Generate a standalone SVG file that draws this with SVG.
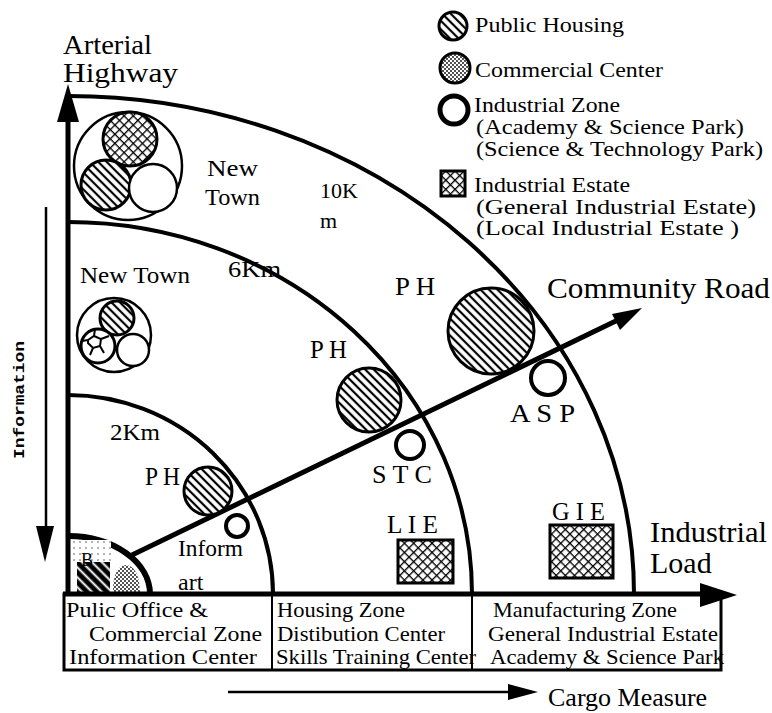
<svg xmlns="http://www.w3.org/2000/svg" width="772" height="713" viewBox="0 0 772 713">
  <style>
    text { font-family: "Liberation Serif", "Times New Roman", serif; fill: #000; }
    .lg { font-size: 22px; }
    .nt { font-size: 24px; }
    .bx { font-size: 22px; }
    .lbl { font-size: 24px; }
    .sp { font-size: 25px; }
    .big { font-size: 30px; }
    .arc { fill: none; stroke: #000; stroke-width: 4; }
    .ax { fill: none; stroke: #000; stroke-width: 5; }
    .ph { fill: url(#hatch); stroke: #000; stroke-width: 3; }
    .iz { fill: #fff; stroke: #000; stroke-width: 4; }
    .ie { fill: url(#cross); stroke: #000; stroke-width: 3; }
    .cc { fill: url(#dots); stroke: #000; stroke-width: 3; }
    .thin { fill: #fff; stroke: #000; stroke-width: 2.5; }
  </style>
  <defs>
    <!-- diagonal hatch for public housing -->
    <pattern id="hatch" patternUnits="userSpaceOnUse" width="6" height="6" patternTransform="rotate(-45)">
      <rect width="6" height="6" fill="#fff"/>
      <line x1="3" y1="0" x2="3" y2="6" stroke="#000" stroke-width="2.2"/>
    </pattern>
    <!-- dense cross hatch for industrial estates -->
    <pattern id="cross" patternUnits="userSpaceOnUse" width="6.5" height="6.5" patternTransform="rotate(45)">
      <rect width="6.5" height="6.5" fill="#fff"/>
      <line x1="0" y1="0" x2="0" y2="6.5" stroke="#000" stroke-width="2.6"/>
      <line x1="0" y1="0" x2="6.5" y2="0" stroke="#000" stroke-width="2.6"/>
    </pattern>
    <!-- stipple for commercial centers -->
    <pattern id="dots" patternUnits="userSpaceOnUse" width="4" height="4">
      <rect width="4" height="4" fill="#fff"/>
      <circle cx="1" cy="1" r="0.9" fill="#000"/>
      <circle cx="3" cy="3" r="0.9" fill="#000"/>
    </pattern>
    <pattern id="lightdots" patternUnits="userSpaceOnUse" width="6" height="6">
      <rect width="6" height="6" fill="#fff"/>
      <circle cx="2" cy="2" r="0.8" fill="#555"/>
    </pattern>
    <!-- inverted hatch: black with white stripes -->
    <pattern id="darkhatch" patternUnits="userSpaceOnUse" width="7" height="7" patternTransform="rotate(-45)">
      <rect width="7" height="7" fill="#000"/>
      <line x1="3.5" y1="0" x2="3.5" y2="7" stroke="#fff" stroke-width="2"/>
    </pattern>
  </defs>

  <!-- legend -->
  <g id="legend">
    <circle class="ph" cx="453" cy="26" r="14"/>
    <text class="lg" x="475" y="32" textLength="149" lengthAdjust="spacingAndGlyphs">Public Housing</text>
    <circle class="cc" cx="455" cy="68" r="15"/>
    <text class="lg" x="475" y="77" textLength="188" lengthAdjust="spacingAndGlyphs">Commercial Center</text>
    <circle cx="454" cy="110" r="14" fill="#fff" stroke="#000" stroke-width="5"/>
    <text class="lg" x="474" y="112" textLength="146" lengthAdjust="spacingAndGlyphs">Industrial  Zone</text>
    <text class="lg" x="476" y="134" textLength="268" lengthAdjust="spacingAndGlyphs">(Academy &amp; Science Park)</text>
    <text class="lg" x="476" y="156" textLength="287" lengthAdjust="spacingAndGlyphs">(Science &amp; Technology Park)</text>
    <rect class="ie" x="441" y="171" width="24" height="25"/>
    <text class="lg" x="474" y="192" textLength="156" lengthAdjust="spacingAndGlyphs">Industrial Estate</text>
    <text class="lg" x="476" y="214" textLength="280" lengthAdjust="spacingAndGlyphs">(General Industrial Estate)</text>
    <text class="lg" x="476" y="235" textLength="263" lengthAdjust="spacingAndGlyphs">(Local Industrial Estate )</text>
  </g>

  <!-- distance rings around the origin -->
  <g id="rings">
    <path class="arc" d="M68,96 A566,498 0 0 1 634,594"/>
    <path class="arc" d="M68,222 A404,372 0 0 1 472,594"/>
    <path class="arc" d="M68,395 A205,199 0 0 1 273,594"/>
    <path d="M68,536 A82,58 0 0 1 150,594" fill="none" stroke="#000" stroke-width="6"/>
  </g>

  <!-- origin: public office and commercial core -->
  <g id="core">
    <rect x="71" y="540" width="40" height="21" fill="url(#lightdots)"/>
    <rect x="77" y="562" width="33" height="30" fill="url(#darkhatch)"/>
    <path d="M113,592 Q113,566 126,565 Q139,566 140,592 Z" fill="url(#dots)"/>
    <text x="81" y="566" style="font-size:18px">B</text>
  </g>

  <!-- connectors: axes and roads -->
  <g id="connectors">
    <line class="ax" x1="68" y1="596" x2="68" y2="118"/>
    <polygon points="68,84 57,122 79,122" fill="#000"/>
    <line class="ax" x1="63" y1="594" x2="704" y2="594"/>
    <polygon points="737,595 700,583 700,607" fill="#000"/>
    <line x1="132" y1="555" x2="622" y2="318" stroke="#000" stroke-width="5"/>
    <polygon points="642,308 612,314 620,330" fill="#000"/>
    <line x1="46" y1="207" x2="46" y2="530" stroke="#000" stroke-width="2.5"/>
    <polygon points="45,562 36,526 54,526" fill="#000"/>
    <line x1="228" y1="692" x2="512" y2="692" stroke="#000" stroke-width="2.5"/>
    <polygon points="538,692 508,684 508,700" fill="#000"/>
  </g>

  <!-- axis titles -->
  <g id="axis-labels">
    <text x="63" y="54" textLength="89" lengthAdjust="spacingAndGlyphs" style="font-size:28px">Arterial</text>
    <text x="63" y="82" textLength="115" lengthAdjust="spacingAndGlyphs" style="font-size:28px">Highway</text>
    <text class="big" x="547" y="298" textLength="223" lengthAdjust="spacingAndGlyphs">Community  Road</text>
    <text class="big" x="650" y="542" textLength="117" lengthAdjust="spacingAndGlyphs">Industrial</text>
    <text class="big" x="650" y="573">Load</text>
    <text transform="translate(24,400) rotate(-90)" text-anchor="middle" textLength="118" lengthAdjust="spacingAndGlyphs" style="font-family:'Liberation Mono',monospace;font-weight:bold;font-size:14px">Information</text>
    <text x="548" y="706" style="font-size:26px">Cargo Measure</text>
  </g>

  <!-- ring distances -->
  <g id="ring-labels">
    <text x="320" y="198" style="font-size:22px">10K</text>
    <text x="320" y="228" style="font-size:22px">m</text>
    <text class="lbl" x="228" y="277" textLength="53" lengthAdjust="spacingAndGlyphs">6Km</text>
    <text class="lbl" x="110" y="440" textLength="50" lengthAdjust="spacingAndGlyphs">2Km</text>
  </g>

  <!-- new town at 10 km -->
  <g id="newtown-outer">
    <circle cx="128" cy="166" r="54" fill="#fff" stroke="#000" stroke-width="2.5"/>
    <circle cx="130" cy="139" r="27" fill="url(#cross)" stroke="#000" stroke-width="3"/>
    <circle cx="106" cy="185" r="25" class="ph"/>
    <circle cx="153" cy="188" r="24" class="thin"/>
    <text class="nt" x="207" y="176" textLength="51" lengthAdjust="spacingAndGlyphs">New</text>
    <text class="nt" x="205" y="205" textLength="55" lengthAdjust="spacingAndGlyphs">Town</text>
  </g>

  <!-- new town at 6 km -->
  <g id="newtown-inner">
    <circle cx="114" cy="335" r="37" fill="#fff" stroke="#000" stroke-width="2.5"/>
    <circle cx="117" cy="318" r="17" class="ph"/>
    <circle cx="98" cy="346" r="17" fill="#fff" stroke="#000" stroke-width="3"/>
    <path d="M88,340 l6,-4 l7,3 l-1,7 l-7,2 l-5,-5 z M94,336 l1,-7 M101,339 l8,-3 M100,346 l4,7 M93,348 l-3,7 M88,340 l-6,1" fill="none" stroke="#000" stroke-width="2"/>
    <circle cx="133" cy="350" r="16" class="thin"/>
    <text class="nt" x="80" y="283" textLength="110" lengthAdjust="spacingAndGlyphs">New Town</text>
  </g>

  <!-- facilities along the community road -->
  <g id="ph-2km">
    <circle cx="208" cy="491" r="24" class="ph"/>
    <text class="sp" x="145" y="485" textLength="35" lengthAdjust="spacingAndGlyphs">P H</text>
  </g>
  <g id="info-2km">
    <circle cx="237" cy="526" r="11" class="iz"/>
    <text class="lbl" x="178" y="556" textLength="65" lengthAdjust="spacingAndGlyphs">Inform</text>
    <text class="lbl" x="178" y="590">art</text>
  </g>
  <g id="ph-6km">
    <circle cx="369" cy="400" r="32" class="ph"/>
    <text class="sp" x="310" y="358" textLength="37" lengthAdjust="spacingAndGlyphs">P H</text>
  </g>
  <g id="stc">
    <circle cx="410" cy="445" r="14" class="iz"/>
    <text class="sp" x="372" y="483" textLength="60" lengthAdjust="spacingAndGlyphs">S T C</text>
  </g>
  <g id="ph-10km">
    <circle cx="491" cy="331" r="43" class="ph"/>
    <text class="sp" x="395" y="295" textLength="40" lengthAdjust="spacingAndGlyphs">P H</text>
  </g>
  <g id="asp">
    <circle cx="548" cy="378" r="17" class="iz"/>
    <text class="sp" x="510" y="422" textLength="65" lengthAdjust="spacingAndGlyphs">A S P</text>
  </g>
  <g id="lie">
    <rect x="398" y="540" width="55" height="43" class="ie"/>
    <text class="sp" x="387" y="533" textLength="51" lengthAdjust="spacingAndGlyphs">L I E</text>
  </g>
  <g id="gie">
    <rect x="550" y="525" width="63" height="53" class="ie"/>
    <text class="sp" x="552" y="520" textLength="53" lengthAdjust="spacingAndGlyphs">G I E</text>
  </g>

  <!-- zone table -->
  <g id="zones">
    <rect x="64" y="594" width="657" height="76" fill="none" stroke="#000" stroke-width="3"/>
    <line x1="272" y1="594" x2="272" y2="670" stroke="#000" stroke-width="2"/>
    <line x1="472" y1="594" x2="472" y2="670" stroke="#000" stroke-width="2"/>
    <text class="bx" x="66" y="617" textLength="142" lengthAdjust="spacingAndGlyphs">Pulic Office &amp;</text>
    <text class="bx" x="89" y="641" textLength="173" lengthAdjust="spacingAndGlyphs">Commercial Zone</text>
    <text class="bx" x="69" y="664" textLength="188" lengthAdjust="spacingAndGlyphs">Information Center</text>
    <text class="bx" x="277" y="617" textLength="128" lengthAdjust="spacingAndGlyphs">Housing Zone</text>
    <text class="bx" x="277" y="641" textLength="168" lengthAdjust="spacingAndGlyphs">Distibution Center</text>
    <text class="bx" x="276" y="664" textLength="200" lengthAdjust="spacingAndGlyphs">Skills Training Center</text>
    <text class="bx" x="493" y="617" textLength="184" lengthAdjust="spacingAndGlyphs">Manufacturing Zone</text>
    <text class="bx" x="488" y="641" textLength="230" lengthAdjust="spacingAndGlyphs">General Industrial Estate</text>
    <text class="bx" x="490" y="664" textLength="234" lengthAdjust="spacingAndGlyphs">Academy &amp; Science Park</text>
  </g>
</svg>
